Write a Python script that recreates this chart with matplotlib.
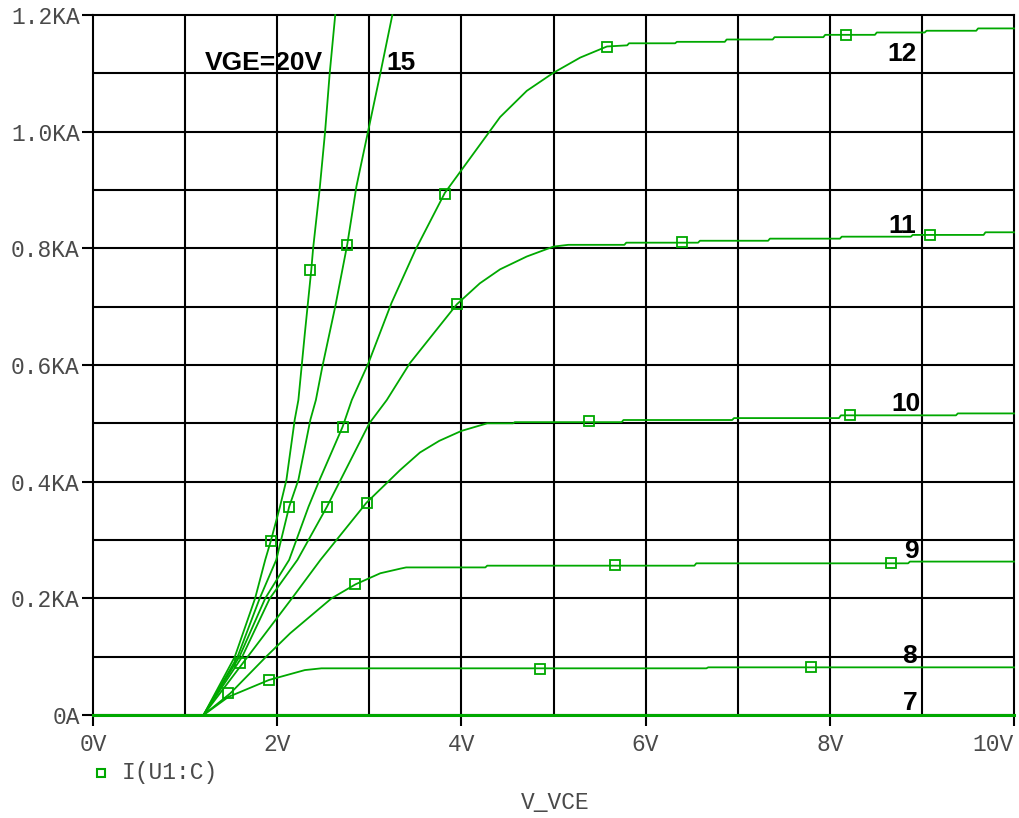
import matplotlib
matplotlib.use("Agg")
import matplotlib.pyplot as plt
from matplotlib.lines import Line2D

# ---------------- data ----------------
x_ticks = [0, 2, 4, 6, 8, 10]
x_tick_labels = ["0V", "2V", "4V", "6V", "8V", "10V"]
y_ticks = [0.0, 0.2, 0.4, 0.6, 0.8, 1.0, 1.2]
y_tick_labels = ["0A", "0.2KA", "0.4KA", "0.6KA", "0.8KA", "1.0KA", "1.2KA"]

# VGE = 20 V
v20 = [0, 1.2, 1.54, 1.76, 1.87, 1.93, 2.03, 2.10, 2.19, 2.23, 2.30, 2.37, 2.39, 2.46, 2.52, 2.57, 2.63]
i20 = [0, 0, 0.10, 0.20, 0.266, 0.298, 0.357, 0.403, 0.506, 0.54, 0.654, 0.763, 0.80, 0.90, 1.0, 1.10, 1.2]
m20_v = [1.93, 2.36]
m20_i = [0.298, 0.763]

# VGE = 15 V
v15 = [0, 1.2, 1.57, 1.81, 1.99, 2.13, 2.23, 2.36, 2.42, 2.49, 2.63, 2.76, 2.86, 2.99, 3.12, 3.25]
i15 = [0, 0, 0.10, 0.20, 0.266, 0.357, 0.403, 0.506, 0.54, 0.597, 0.70, 0.806, 0.906, 1.003, 1.10, 1.2]
m15_v = [2.13, 2.76]
m15_i = [0.357, 0.806]

# VGE = 12 V
v12 = [0, 1.2, 1.59, 1.87, 2.13, 2.34, 2.46, 2.71, 2.81, 2.99, 3.24, 3.50, 3.82, 4.42, 4.71, 5.0,
       5.29, 5.58, 5.80, 5.82, 6.32, 6.34, 6.86, 6.88, 7.38, 7.40, 7.93, 7.95, 8.49, 8.51, 9.03,
       9.05, 9.59, 9.61, 10.0]
i12 = [0, 0, 0.10, 0.20, 0.266, 0.357, 0.403, 0.494, 0.54, 0.603, 0.706, 0.797, 0.895, 1.025, 1.070,
       1.101, 1.127, 1.146, 1.148, 1.1515, 1.1515, 1.154, 1.154, 1.158, 1.158, 1.162, 1.162, 1.166,
       1.166, 1.170, 1.170, 1.173, 1.173, 1.177, 1.177]
m12_v = [2.71, 3.82, 5.58, 8.18]
m12_i = [0.494, 0.893, 1.146, 1.166]

# VGE = 11 V
v11 = [0, 1.2, 1.62, 1.92, 2.22, 2.54, 3.0, 3.19, 3.44, 3.95, 4.20, 4.42, 4.71, 5.0, 5.16, 5.77,
       5.79, 6.57, 6.59, 7.33, 7.35, 8.11, 8.13, 8.88, 8.90, 9.67, 9.69, 10.0]
i11 = [0, 0, 0.10, 0.20, 0.266, 0.357, 0.50, 0.54, 0.603, 0.704, 0.740, 0.764, 0.786, 0.803, 0.806,
       0.806, 0.8097, 0.8097, 0.813, 0.813, 0.8166, 0.8166, 0.820, 0.820, 0.823, 0.823, 0.8275, 0.8275]
m11_v = [2.54, 3.95, 6.39, 9.09]
m11_i = [0.357, 0.704, 0.810, 0.823]

# VGE = 10 V
v10 = [0, 1.2, 1.68, 2.16, 2.47, 2.97, 3.335, 3.55, 3.76, 4.0, 4.28, 4.56, 4.58, 5.74, 5.76, 6.94,
       6.96, 8.10, 8.12, 9.37, 9.39, 10.0]
i10 = [0, 0, 0.10, 0.20, 0.266, 0.364, 0.42, 0.45, 0.47, 0.487, 0.50, 0.50, 0.502, 0.502, 0.5057,
       0.5057, 0.509, 0.509, 0.5137, 0.5137, 0.517, 0.517]
m10_v = [1.60, 2.97, 5.39, 8.22]
m10_i = [0.089, 0.364, 0.5046, 0.5137]

# VGE = 9 V
v9 = [0, 1.2, 1.49, 1.88, 2.14, 2.59, 2.85, 3.12, 3.34, 3.40, 4.26, 4.28, 6.53, 6.55, 8.85, 8.87, 10.0]
i9 = [0, 0, 0.037, 0.10, 0.14, 0.20, 0.224, 0.243, 0.251, 0.253, 0.253, 0.256, 0.256, 0.260, 0.260,
      0.263, 0.263]
m9_v = [1.47, 2.85, 5.67, 8.66]
m9_i = [0.037, 0.224, 0.257, 0.261]

# VGE = 8 V
v8 = [0, 1.2, 1.47, 1.91, 2.30, 2.48, 6.66, 6.68, 10.0]
i8 = [0, 0, 0.031, 0.06, 0.077, 0.080, 0.080, 0.0817, 0.0817]
m8_v = [1.91, 4.85, 7.80]
m8_i = [0.06, 0.0795, 0.0817]

# VGE = 7 V
v7 = [0, 10.0]
i7 = [0, 0]

curves = [(v20, i20, m20_v, m20_i), (v15, i15, m15_v, m15_i), (v12, i12, m12_v, m12_i),
          (v11, i11, m11_v, m11_i), (v10, i10, m10_v, m10_i), (v9, i9, m9_v, m9_i),
          (v8, i8, m8_v, m8_i), (v7, i7, [], [])]

# ---------------- figure ----------------
W, H = 1019, 818
fig = plt.figure(figsize=(W / 100, H / 100), dpi=100)
L, R, T, B = 93, 1014, 15, 715
ax = fig.add_axes([L / W, 1 - B / H, (R - L) / W, (B - T) / H])

GREEN = "#00A800"
MONO = "Liberation Mono"
TXT = "#4a4a4a"

ax.set_xlim(0, 10)
ax.set_ylim(0, 1.2)

# grid every 1 V and 0.1 KA
for gx in range(1, 10):
    ax.axvline(gx, color="black", lw=1.5, zorder=1)
for k in range(1, 12):
    ax.axhline(k / 10, color="black", lw=1.5, zorder=1)

for v, i, mv, mi in curves:
    ax.plot(v, i, color=GREEN, lw=1.3, zorder=3, clip_on=False)
    if mv:
        ax.plot(mv, mi, ls="none", marker="s", ms=6.5, mfc="none", mec=GREEN, mew=1.3, zorder=4)

# a thicker baseline where all curves coincide
ax.plot([0, 10], [0, 0], color=GREEN, lw=2.2, zorder=3, clip_on=False)

for s in ax.spines.values():
    s.set_color("black")
    s.set_linewidth(1.5)

ax.set_xticks(x_ticks)
ax.set_xticklabels(x_tick_labels, family=MONO, fontsize=16.5, color=TXT)
ax.get_xticklabels()[-1].set_horizontalalignment("right")
ax.set_yticks(y_ticks)
ax.set_yticklabels(y_tick_labels, family=MONO, fontsize=16.5, color=TXT)
ax.tick_params(axis="both", direction="out", length=8, width=1.5, color="black")
ax.tick_params(axis="x", pad=5)
ax.tick_params(axis="y", pad=1.5)

# curve labels
lab_kw = dict(family="Liberation Sans", fontweight="bold", fontsize=19, color="black", zorder=5)
ax.text(1.216, 1.106, "VGE=20V", ha="left", va="baseline", **lab_kw)
ax.text(3.18, 1.106, "15", ha="left", va="baseline", **lab_kw)
ax.text(8.62, 1.121, "12", ha="left", va="baseline", **lab_kw)
ax.text(8.64, 0.826, "11", ha="left", va="baseline", **lab_kw)
ax.text(8.67, 0.5217, "10", ha="left", va="baseline", **lab_kw)
ax.text(8.81, 0.2686, "9", ha="left", va="baseline", **lab_kw)
ax.text(8.79, 0.0897, "8", ha="left", va="baseline", **lab_kw)
ax.text(8.79, 0.0086, "7", ha="left", va="baseline", **lab_kw)

# legend entry and x-axis title
fig.add_artist(Line2D([101 / W], [1 - 773 / H], marker="s", ms=5.5, mfc="none", mec=GREEN,
                      mew=1.5, ls="none", transform=fig.transFigure))
fig.text(122 / W, 1 - 773 / H, "I(U1:C)", family=MONO, fontsize=16.5, color=TXT,
         ha="left", va="center")
fig.text(555 / W, 1 - 803 / H, "V_VCE", family=MONO, fontsize=16.5, color=TXT,
         ha="center", va="center")

fig.savefig("out.png", dpi=100, facecolor="white")
